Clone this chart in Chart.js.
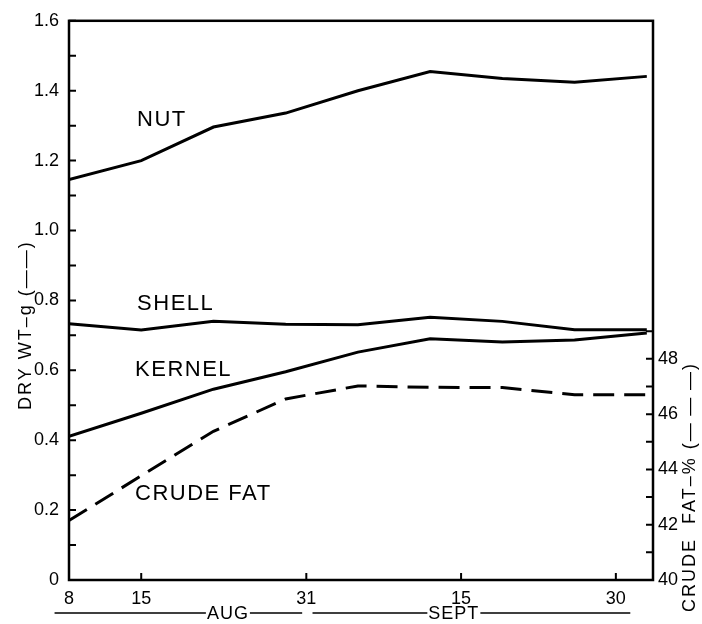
<!DOCTYPE html>
<html><head><meta charset="utf-8">
<script src="https://cdn.jsdelivr.net/npm/chart.js@4.4.1/dist/chart.umd.min.js"></script>
<style>html,body{margin:0;padding:0;background:#fff;}canvas{display:block;}</style>
</head><body>
<canvas id="c" width="702" height="624"></canvas>
<script>
// Sampling dates, in days after Aug 8
const sampleDays = [0, 7, 14, 21, 28, 35, 42, 49, 56];
const nut      = [1.146, 1.200, 1.296, 1.336, 1.400, 1.455, 1.435, 1.424, 1.441];
const shell    = [0.733, 0.715, 0.740, 0.732, 0.730, 0.752, 0.740, 0.716, 0.716];
const kernel   = [0.411, 0.477, 0.546, 0.596, 0.652, 0.690, 0.681, 0.687, 0.707];
const crudeFat = [42.15, 43.77, 45.38, 46.55, 47.02, 46.97, 46.96, 46.70, 46.70];

const xTickDays   = [0, 7, 23, 38, 53];
const xTickLabels = ['8', '15', '31', '15', '30'];
const yTickLabels = ['0', '0.2', '0.4', '0.6', '0.8', '1.0', '1.2', '1.4', '1.6'];
const y2TickLabels = ['40', '42', '44', '46', '48'];

const seriesNames = ['NUT', 'SHELL', 'KERNEL', 'CRUDE FAT'];
const nameDays    = [6.6, 6.6, 6.4, 6.4];
const nameValues  = [1.315, 0.790, 0.600, 0.247];

const months        = ['AUG', 'SEPT'];
const monthStartDay = [-1.4, 23.6];
const monthEndDay   = [22.6, 54.4];
const monthLabelDay = [15.4, 37.3];

const leftTitle  = 'DRY WT\u2013g (\u2014\u2014)';
const rightTitle = 'CRUDE  FAT\u2013% (\u2014\u2009\u2014\u2009\u2014)';

const FONT = "'Liberation Sans', Arial, sans-serif";
Chart.defaults.font.family = FONT;
Chart.defaults.color = '#000';

const pts = arr => sampleDays.map((d, i) => ({x: d, y: arr[i]}));

const framePlugin = {
  id: 'frame',
  afterDraw(chart) {
    const {ctx, chartArea: a, scales} = chart;
    const sx = scales.x, sy = scales.y, sy2 = scales.y2;
    ctx.save();
    ctx.strokeStyle = '#000';
    ctx.lineWidth = 2.5;
    ctx.strokeRect(a.left, a.top, a.right - a.left, a.bottom - a.top);
    ctx.lineWidth = 2;
    ctx.beginPath();
    sy.ticks.forEach(t => { const p = sy.getPixelForValue(t.value); ctx.moveTo(a.left, p); ctx.lineTo(a.left + 7, p); });
    sy2.ticks.forEach(t => { const p = sy2.getPixelForValue(t.value); ctx.moveTo(a.right - 7, p); ctx.lineTo(a.right, p); });
    sx.ticks.forEach(t => { if (t.value > 0) { const p = sx.getPixelForValue(t.value); ctx.moveTo(p, a.bottom); ctx.lineTo(p, a.bottom - 7); } });
    ctx.stroke();

    const ls = v => { if ('letterSpacing' in ctx) ctx.letterSpacing = v; };

    // series names
    ctx.fillStyle = '#000';
    ctx.font = '22px ' + FONT;
    ctx.textBaseline = 'middle';
    ctx.textAlign = 'left';
    ls('1.5px');
    seriesNames.forEach((n, i) => {
      ctx.fillText(n, sx.getPixelForValue(nameDays[i]), sy.getPixelForValue(nameValues[i]));
    });

    // month bars
    ctx.font = '18px ' + FONT;
    ls('1px');
    ctx.lineWidth = 1.5;
    const my = a.bottom + 33;
    months.forEach((m, i) => {
      const xs = sx.getPixelForValue(monthStartDay[i]);
      const xe = sx.getPixelForValue(monthEndDay[i]);
      const xc = sx.getPixelForValue(monthLabelDay[i]);
      const w = ctx.measureText(m).width;
      ctx.beginPath();
      ctx.moveTo(xs, my); ctx.lineTo(xc - w / 2 - 1, my);
      ctx.moveTo(xc + w / 2 + 1, my); ctx.lineTo(xe, my);
      ctx.stroke();
      ctx.textAlign = 'center';
      ctx.fillText(m, xc, my + 1);
    });

    // axis titles
    ctx.font = '18px ' + FONT;
    ls('2px');
    ctx.textAlign = 'left';
    ctx.save();
    ctx.translate(26, 410);
    ctx.rotate(-Math.PI / 2);
    ctx.fillText(leftTitle, 0, 0);
    ctx.restore();
    ctx.save();
    ctx.translate(690, 612);
    ctx.rotate(-Math.PI / 2);
    ctx.fillText(rightTitle, 0, 0);
    ctx.restore();
    ctx.restore();
  }
};

new Chart(document.getElementById('c'), {
  type: 'line',
  data: {
    datasets: [
      {label: 'Nut', data: pts(nut), yAxisID: 'y'},
      {label: 'Shell', data: pts(shell), yAxisID: 'y'},
      {label: 'Kernel', data: pts(kernel), yAxisID: 'y'},
      {label: 'Crude fat', data: pts(crudeFat), yAxisID: 'y2', borderDash: [21, 10]}
    ].map(d => Object.assign({borderColor: '#000', borderWidth: 3, pointRadius: 0, tension: 0, fill: false, borderCapStyle: 'butt'}, d))
  },
  options: {
    responsive: false,
    animation: false,
    layout: {padding: {top: 16, left: 0, right: 0, bottom: 0}},
    plugins: {legend: {display: false}, tooltip: {enabled: false}},
    scales: {
      x: {
        type: 'linear', min: 0, max: 56.6,
        afterBuildTicks: s => { s.ticks = xTickDays.map(v => ({value: v})); },
        afterFit: s => { s.height = 44; },
        ticks: {font: {size: 18}, padding: 8, maxRotation: 0, autoSkip: false,
          callback: (v) => { const i = xTickDays.indexOf(v); return i >= 0 ? xTickLabels[i] : ''; }},
        grid: {display: false, drawTicks: false},
        border: {display: false}
      },
      y: {
        type: 'linear', position: 'left', min: 0, max: 1.6,
        afterBuildTicks: s => { const t = []; for (let k = 0; k <= 16; k++) t.push({value: k / 10}); s.ticks = t; },
        afterFit: s => { s.width = 69; },
        ticks: {font: {size: 18}, padding: 10, autoSkip: false,
          callback: (v) => { const k = Math.round(v * 10); return k % 2 === 0 ? yTickLabels[k / 2] : ''; }},
        grid: {display: false, drawTicks: false},
        border: {display: false}
      },
      y2: {
        type: 'linear', position: 'right', min: 40, max: 60.23,
        afterBuildTicks: s => { const t = []; for (let k = 40; k <= 49; k++) t.push({value: k}); s.ticks = t; },
        afterFit: s => { s.width = 49; },
        ticks: {font: {size: 18}, padding: 5, autoSkip: false,
          callback: (v) => { const i = y2TickLabels.indexOf(String(v)); return i >= 0 ? y2TickLabels[i] : ''; }},
        grid: {display: false, drawTicks: false},
        border: {display: false}
      }
    }
  },
  plugins: [framePlugin]
});
</script>
</body></html>
